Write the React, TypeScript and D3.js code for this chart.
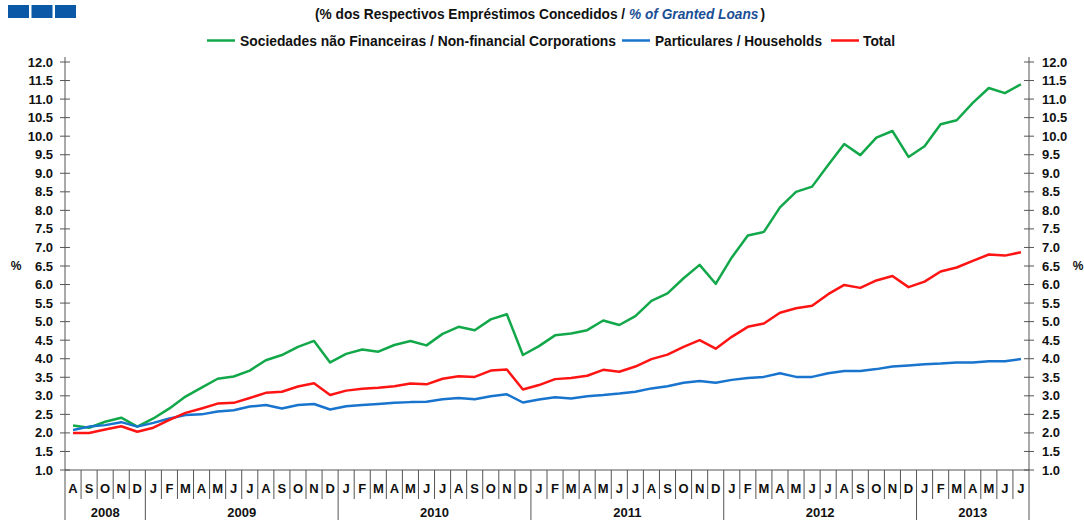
import * as d3 from 'd3';

const months = [
  'A', 'S', 'O', 'N', 'D',
  'J', 'F', 'M', 'A', 'M', 'J', 'J', 'A', 'S', 'O', 'N', 'D',
  'J', 'F', 'M', 'A', 'M', 'J', 'J', 'A', 'S', 'O', 'N', 'D',
  'J', 'F', 'M', 'A', 'M', 'J', 'J', 'A', 'S', 'O', 'N', 'D',
  'J', 'F', 'M', 'A', 'M', 'J', 'J', 'A', 'S', 'O', 'N', 'D',
  'J', 'F', 'M', 'A', 'M', 'J', 'J',
];

const years = ['2008', '2009', '2010', '2011', '2012', '2013'];
const monthsPerYear = [5, 12, 12, 12, 12, 7];

const corporations = [
  2.20, 2.14, 2.30, 2.41, 2.17,
  2.39, 2.66, 2.98, 3.22, 3.46, 3.52, 3.68, 3.96, 4.10, 4.32, 4.48, 3.90,
  4.13, 4.25, 4.19, 4.37, 4.48, 4.36, 4.67, 4.86, 4.77, 5.06, 5.20, 4.10,
  4.34, 4.63, 4.68, 4.77, 5.03, 4.91, 5.15, 5.56, 5.76, 6.17, 6.53, 6.02,
  6.73, 7.32, 7.42, 8.08, 8.50, 8.64, 9.22, 9.79, 9.49, 9.96, 10.14, 9.44,
  9.73, 10.32, 10.43, 10.90, 11.30, 11.16, 11.40,
];

const households = [
  2.08, 2.17, 2.21, 2.29, 2.17,
  2.27, 2.39, 2.48, 2.50, 2.58, 2.61, 2.71, 2.75, 2.66, 2.75, 2.78, 2.63,
  2.72, 2.75, 2.78, 2.81, 2.83, 2.84, 2.91, 2.94, 2.91, 2.99, 3.04, 2.82,
  2.90, 2.96, 2.93, 2.99, 3.02, 3.06, 3.11, 3.20, 3.26, 3.35, 3.40, 3.35,
  3.43, 3.48, 3.51, 3.61, 3.51, 3.51, 3.61, 3.67, 3.67, 3.72, 3.79, 3.82,
  3.85, 3.87, 3.90, 3.90, 3.93, 3.93, 3.99,
];

const total = [
  2.00, 2.00, 2.09, 2.18, 2.03,
  2.14, 2.35, 2.54, 2.66, 2.79, 2.81, 2.94, 3.08, 3.11, 3.25, 3.34, 3.02,
  3.14, 3.19, 3.22, 3.26, 3.33, 3.31, 3.46, 3.53, 3.51, 3.68, 3.71, 3.17,
  3.29, 3.45, 3.48, 3.54, 3.70, 3.65, 3.79, 3.99, 4.11, 4.32, 4.50, 4.27,
  4.59, 4.86, 4.95, 5.24, 5.36, 5.43, 5.74, 5.99, 5.91, 6.11, 6.23, 5.93,
  6.08, 6.35, 6.46, 6.64, 6.81, 6.78, 6.87,
];

const yTicks = d3.range(1, 12.01, 0.5);

const series = [
  { name: 'Sociedades não Financeiras / Non-financial Corporations', values: corporations, color: '#12a84a' },
  { name: 'Particulares / Households', values: households, color: '#1874cd' },
  { name: 'Total', values: total, color: '#ff1414' },
];

const W = 1084;
const H = 520;
const left = 65;
const right = 1029;
const top = 62;
const bottom = 470;
const axisColor = '#555';
const font = 'Liberation Sans, Arial, sans-serif';
const narrow = '"Liberation Sans Narrow", "Arial Narrow", "Liberation Sans", Arial, sans-serif';

export default function App() {
  const x = d3.scaleBand<number>().domain(d3.range(months.length)).range([left, right]);
  const y = d3.scaleLinear().domain([1, 12]).range([bottom, top]);
  const line = d3.line<number>()
    .x((_, i) => (x(i) as number) + x.bandwidth() / 2)
    .y(d => y(d));

  // year boundaries as month indices
  const yearStarts: number[] = [];
  let acc = 0;
  monthsPerYear.forEach(n => { yearStarts.push(acc); acc += n; });

  const legendItems = [
    { lx: 207, tx: 240, tw: 376 },
    { lx: 622, tx: 655, tw: 167 },
    { lx: 831, tx: 863, tw: 32 },
  ];

  return (
    <div style={{ position: 'absolute', left: 0, top: 0 }}>
      <svg width={W} height={H} style={{ display: 'block', background: '#fff' }}>
        {[0, 1, 2].map(i => (
          <rect key={i} x={8 + i * 23.5} y={5} width={21} height={13} fill="#0a58a6" />
        ))}

        <text x={315} y={19} fontFamily={narrow} fontSize={14} fontWeight="bold" fill="#111"
          textLength={450} lengthAdjust="spacingAndGlyphs">
          (% dos Respectivos  Empréstimos Concedidos /{' '}
          <tspan fill="#1a4f95" fontStyle="italic">% of Granted Loans</tspan>
          <tspan dx={2}>)</tspan>
        </text>

        {series.map((s, i) => (
          <g key={s.name}>
            <line x1={legendItems[i].lx} x2={legendItems[i].lx + 28} y1={40.5} y2={40.5} stroke={s.color} strokeWidth={2.5} />
            <text x={legendItems[i].tx} y={46} fontFamily={narrow} fontSize={14} fontWeight="bold" fill="#111"
              textLength={legendItems[i].tw} lengthAdjust="spacingAndGlyphs">
              {s.name}
            </text>
          </g>
        ))}

        {/* axes */}
        <line x1={left} x2={left} y1={top - 5} y2={H} stroke={axisColor} strokeWidth={1} />
        <line x1={right} x2={right} y1={top - 5} y2={H} stroke={axisColor} strokeWidth={1} />
        <line x1={left} x2={right} y1={bottom} y2={bottom} stroke={axisColor} strokeWidth={1} />

        {yTicks.map(t => (
          <g key={t}>
            <line x1={left - 5} x2={left + 5} y1={y(t)} y2={y(t)} stroke={axisColor} />
            <line x1={right - 5} x2={right + 5} y1={y(t)} y2={y(t)} stroke={axisColor} />
            <text x={53} y={y(t)} dy="0.35em" textAnchor="end" fontFamily={font} fontSize={13} fontWeight="bold" fill="#111">
              {t.toFixed(1)}
            </text>
            <text x={1042} y={y(t)} dy="0.35em" textAnchor="start" fontFamily={font} fontSize={13} fontWeight="bold" fill="#111">
              {t.toFixed(1)}
            </text>
          </g>
        ))}
        <text x={16} y={y(6.5)} dy="0.35em" textAnchor="middle" fontFamily={font} fontSize={12} fontWeight="bold" fill="#111">%</text>
        <text x={1078} y={y(6.5)} dy="0.35em" textAnchor="middle" fontFamily={font} fontSize={12} fontWeight="bold" fill="#111">%</text>

        {/* month labels and separators */}
        {months.map((m, i) => {
          const x0 = x(i) as number;
          return (
            <g key={i}>
              {i > 0 && !yearStarts.includes(i) && (
                <line x1={x0} x2={x0} y1={bottom} y2={499} stroke={axisColor} />
              )}
              <text x={x0 + x.bandwidth() / 2} y={493} textAnchor="middle" fontFamily={font} fontSize={13} fontWeight="bold" fill="#111">
                {m}
              </text>
            </g>
          );
        })}
        {years.map((yr, i) => {
          const s = yearStarts[i];
          const x0 = x(s) as number;
          const x1 = (x(s + monthsPerYear[i] - 1) as number) + x.bandwidth();
          return (
            <g key={yr}>
              {i > 0 && <line x1={x0} x2={x0} y1={bottom} y2={H} stroke={axisColor} />}
              <text x={(x0 + x1) / 2} y={517} textAnchor="middle" fontFamily={font} fontSize={13} fontWeight="bold" fill="#111">
                {yr}
              </text>
            </g>
          );
        })}

        {series.map(s => (
          <path key={s.name} d={line(s.values) || undefined} fill="none" stroke={s.color} strokeWidth={2.5} strokeLinejoin="round" />
        ))}
      </svg>
    </div>
  );
}
